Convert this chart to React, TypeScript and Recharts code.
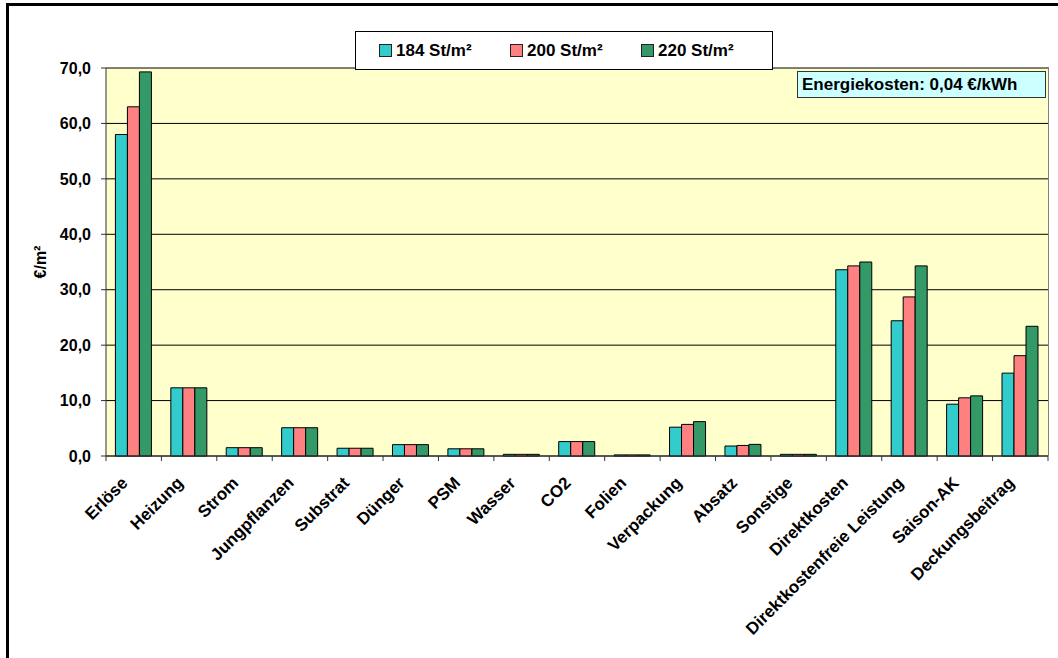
import { BarChart, Bar, XAxis, YAxis, CartesianGrid } from 'recharts';

const categories = [
  'Erlöse',
  'Heizung',
  'Strom',
  'Jungpflanzen',
  'Substrat',
  'Dünger',
  'PSM',
  'Wasser',
  'CO2',
  'Folien',
  'Verpackung',
  'Absatz',
  'Sonstige',
  'Direktkosten',
  'Direktkostenfreie Leistung',
  'Saison-AK',
  'Deckungsbeitrag',
];

const values184 = [58.0, 12.3, 1.5, 5.1, 1.4, 2.05, 1.3, 0.3, 2.6, 0.2, 5.2, 1.8, 0.3, 33.6, 24.4, 9.35, 14.95];
const values200 = [63.0, 12.3, 1.5, 5.1, 1.4, 2.05, 1.3, 0.3, 2.6, 0.2, 5.7, 1.9, 0.3, 34.3, 28.7, 10.5, 18.1];
const values220 = [69.3, 12.3, 1.5, 5.1, 1.4, 2.05, 1.3, 0.3, 2.6, 0.2, 6.2, 2.1, 0.3, 35.0, 34.3, 10.85, 23.4];

const yTicks = [0, 10, 20, 30, 40, 50, 60, 70];

const series = [
  { key: 's184', name: '184 St/m²', color: '#33CCCC' },
  { key: 's200', name: '200 St/m²', color: '#FF8080' },
  { key: 's220', name: '220 St/m²', color: '#339966' },
];

const data = categories.map((name, i) => ({
  name,
  s184: values184[i],
  s200: values200[i],
  s220: values220[i],
}));

const FONT = '"Liberation Sans", Arial, sans-serif';
const W = 1058;
const H = 658;
const CHART_H = 650;
const MARGIN = { top: 68, right: 10, left: 0, bottom: 0 };
const Y_AXIS_W = 106;
const X_AXIS_H = 194;
const PLOT_W = W - MARGIN.left - Y_AXIS_W - MARGIN.right;
const PLOT_H = CHART_H - MARGIN.top - MARGIN.bottom - X_AXIS_H;
const BAND = PLOT_W / categories.length;

const fmt = (v: number) => v.toFixed(1).replace('.', ',');

// category labels turned 45° with tick marks between the groups
function CategoryTick(props: any) {
  const { x, y, payload, index } = props;
  const half = BAND / 2;
  const last = index === categories.length - 1;
  const tx = x - 5;
  const ty = y + 28;
  return (
    <g>
      <line x1={x - half} y1={y} x2={x - half} y2={y + 5} stroke="#333" />
      {last && <line x1={x + half} y1={y} x2={x + half} y2={y + 5} stroke="#333" />}
      <text
        x={tx}
        y={ty}
        transform={`rotate(-45, ${tx}, ${ty})`}
        textAnchor="end"
        fontFamily={FONT}
        fontWeight="bold"
        fontSize={17}
        fill="#000"
      >
        {payload.value}
      </text>
    </g>
  );
}

function LegendBox() {
  return (
    <div
      style={{
        position: 'absolute',
        left: 355,
        top: 31,
        width: 418,
        height: 39,
        border: '1px solid #000',
        background: '#fff',
        boxSizing: 'border-box',
        display: 'flex',
        alignItems: 'center',
        paddingLeft: 23,
        fontFamily: FONT,
        fontWeight: 'bold',
        fontSize: 17,
        color: '#000',
      }}
    >
      {series.map((s) => (
        <div key={s.key} style={{ display: 'flex', alignItems: 'center', width: 140 }}>
          <span
            style={{
              display: 'inline-block',
              width: 11,
              height: 11,
              background: s.color,
              border: '1px solid #222',
              marginRight: 4,
            }}
          />
          <span>{s.name}</span>
        </div>
      ))}
    </div>
  );
}

export default function App() {
  return (
    <div style={{ position: 'fixed', left: 0, top: 0, width: W, height: H, background: '#fff', overflow: 'hidden' }}>
      <div style={{ position: 'absolute', left: 6, top: 3, width: 3, height: H - 3, background: '#000' }} />
      <div style={{ position: 'absolute', left: 6, top: 3, width: W - 6, height: 3, background: '#000' }} />
      <BarChart
        width={W}
        height={CHART_H}
        data={data}
        margin={MARGIN}
        barCategoryGap="17%"
        barGap={0}
        style={{ position: 'absolute', left: 0, top: 0 }}
      >
        <CartesianGrid horizontal vertical={false} stroke="#000" fill="#FFFFCC" />
        <XAxis
          dataKey="name"
          interval={0}
          height={X_AXIS_H}
          tickLine={false}
          tickSize={0}
          tickMargin={0}
          tick={<CategoryTick />}
          axisLine={{ stroke: '#333' }}
        />
        <YAxis
          width={Y_AXIS_W}
          domain={[0, 70]}
          ticks={yTicks}
          tickFormatter={fmt}
          tickSize={5}
          tickMargin={10}
          tick={{ fill: '#000', fontSize: 16, fontWeight: 'bold', fontFamily: FONT }}
          axisLine={{ stroke: '#333' }}
          tickLine={{ stroke: '#333' }}
          label={{
            content: () => (
              <text
                x={46}
                y={262}
                transform="rotate(-90, 46, 262)"
                textAnchor="middle"
                fontFamily={FONT}
                fontWeight="bold"
                fontSize={16}
                fill="#000"
              >
                €/m²
              </text>
            ),
          }}
        />
        {series.map((s) => (
          <Bar
            key={s.key}
            dataKey={s.key}
            name={s.name}
            fill={s.color}
            stroke="#000"
            strokeWidth={1}
            isAnimationActive={false}
          />
        ))}
      </BarChart>
      {/* grey plot frame on the top and right */}
      <div
        style={{
          position: 'absolute',
          left: MARGIN.left + Y_AXIS_W,
          top: MARGIN.top - 1,
          width: PLOT_W + 1,
          height: PLOT_H + 1,
          boxSizing: 'border-box',
          borderTop: '1px solid #808080',
          borderRight: '1px solid #808080',
          pointerEvents: 'none',
        }}
      />
      <LegendBox />
      <div
        style={{
          position: 'absolute',
          left: 797,
          top: 71,
          width: 249,
          height: 27,
          boxSizing: 'border-box',
          background: '#CCFFFF',
          border: '1px solid #333',
          fontFamily: FONT,
          fontWeight: 'bold',
          fontSize: 17,
          lineHeight: '25px',
          paddingLeft: 4,
          color: '#000',
          whiteSpace: 'nowrap',
        }}
      >
        Energiekosten: 0,04 €/kWh
      </div>
    </div>
  );
}
